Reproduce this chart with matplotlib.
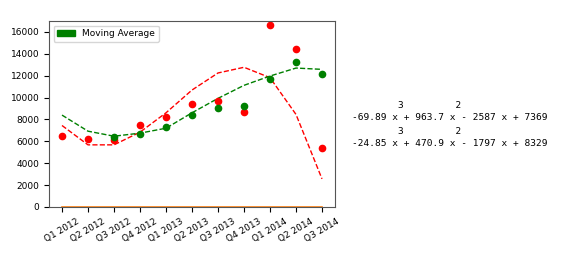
import matplotlib
matplotlib.use('Agg')
import matplotlib.pyplot as plt
import matplotlib.patches as mpatches

quarters = ['Q1 2012', 'Q2 2012', 'Q3 2012', 'Q4 2012', 'Q1 2013', 'Q2 2013',
            'Q3 2013', 'Q4 2013', 'Q1 2014', 'Q2 2014', 'Q3 2014']
# valeurs reelles (points rouges)
sales = [6500, 6260, 6140, 7450, 8210, 9400, 9650, 8710, 16600, 14450, 5370]
# moyenne mobile (points verts), commence au 3e trimestre
mov_avg = [None, None, 6380, 6690, 7300, 8400, 9070, 9250, 11700, 13250, 12130]
# courbes d'ajustement
fit_sales = [7450, 5680, 5680, 6840, 8610, 10690, 12250, 12770, 11820, 8460, 2570]
fit_avg = [8400, 6930, 6470, 6750, 7200, 8610, 9930, 11120, 11970, 12700, 12580]
zeros = [0] * 11

poly1 = '        3         2\n-69.89 x + 963.7 x - 2587 x + 7369'
poly2 = '        3         2\n-24.85 x + 470.9 x - 1797 x + 8329'

x = list(range(len(quarters)))
fig = plt.figure(figsize=(5.66, 2.54), dpi=100)
ax = fig.add_axes([49/566, 1 - 207/254, (335-49)/566, (207-21)/254])

ax.plot(x, zeros, color='#ff7f0e', lw=1.2)
ax.plot(x, fit_sales, 'r--', lw=1)
ax.plot(x, fit_avg, 'g--', lw=1)
ax.plot(x, sales, 'ro', ms=4.5)
xa = [i for i in x if mov_avg[i] is not None]
ax.plot(xa, [mov_avg[i] for i in xa], 'go', ms=4.5)

ax.set_xlim(-0.5, 10.5)
ax.set_ylim(0, 17000)
ax.set_yticks(range(0, 17000, 2000))
ax.set_xticks(x)
ax.set_xticklabels(quarters, rotation=30, fontsize=6.5)
ax.tick_params(axis='y', labelsize=6.5)
for s in ax.spines.values():
    s.set_color('#555555')

patch = mpatches.Patch(color='green', label='Moving Average')
ax.legend(handles=[patch], loc='upper left', fontsize=6.5)

fig.text(352/566, 1 - 111.5/254, poly1, family='DejaVu Sans Mono', fontsize=6.8,
         va='center', linespacing=1.5)
fig.text(352/566, 1 - 137.5/254, poly2, family='DejaVu Sans Mono', fontsize=6.8,
         va='center', linespacing=1.5)

fig.savefig('out.png', dpi=100)
